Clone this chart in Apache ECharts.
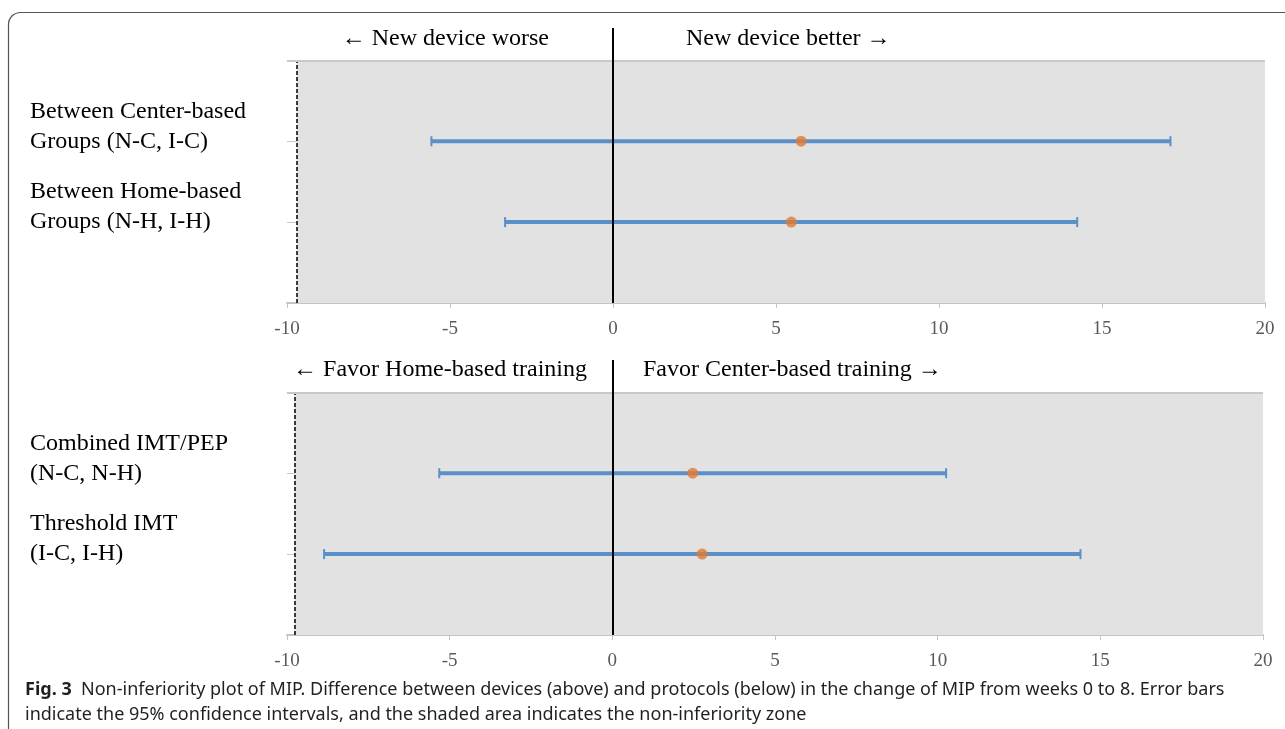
<!DOCTYPE html>
<html>
<head>
<meta charset="utf-8">
<title>Non-inferiority plot of MIP</title>
<script src="https://cdn.jsdelivr.net/npm/echarts@6/dist/echarts.min.js"></script>
<style>
  html, body { margin: 0; padding: 0; background: #fff; }
  #chart { width: 1285px; height: 729px; }
</style>
</head>
<body>
<div id="chart"></div>
<script>
// upper panel: devices
var topLabels = ['Between Center-based\nGroups (N-C, I-C)', 'Between Home-based\nGroups (N-H, I-H)'];
var topMean = [5.77, 5.47];
var topLow = [-5.57, -3.31];
var topHigh = [17.10, 14.24];
var topMargin = -9.7;

// lower panel: protocols
var botLabels = ['Combined IMT/PEP\n(N-C, N-H)', 'Threshold IMT\n(I-C, I-H)'];
var botMean = [2.47, 2.76];
var botLow = [-5.32, -8.86];
var botHigh = [10.26, 14.39];
var botMargin = -9.77;

// row positions on the value y axis (first row on top)
var rowPos = [2, 1];
var xTicks = [-10, -5, 0, 5, 10, 15, 20];

var serif = 'Liberation Serif';
var blue = '#5b8fc8';
var orange = '#e07a35';

function labelFor(list) {
    return function (v) {
        var i = rowPos.indexOf(v);
        // trailing blank line so the second line sits on the row
        return i >= 0 ? list[i] + '\n ' : '';
    };
}

function makeY(idx, list) {
    return {
        gridIndex: idx,
        type: 'value',
        min: 0,
        max: 3.4,
        interval: 1,
        axisLine: { show: false },
        axisTick: { show: false },
        splitLine: {
            show: true,
            showMaxLine: false,
            lineStyle: { color: '#c8c8c8', width: 1 }
        },
        axisLabel: {
            formatter: labelFor(list),
            align: 'left',
            margin: 257,
            fontFamily: serif,
            fontSize: 24,
            lineHeight: 30,
            color: '#000'
        }
    };
}

function makeX(idx) {
    return {
        gridIndex: idx,
        type: 'value',
        min: xTicks[0],
        max: xTicks[xTicks.length - 1],
        interval: 5,
        axisLine: { show: true, lineStyle: { color: '#c4c4c4', width: 2 } },
        axisTick: { show: true, length: 5, lineStyle: { color: '#c4c4c4' } },
        splitLine: { show: false },
        axisLabel: {
            fontFamily: serif,
            fontSize: 19,
            color: '#595959',
            margin: 17,
            formatter: function (v) { return String(v); }
        }
    };
}

function errorSeries(idx, low, high) {
    var data = low.map(function (l, i) { return [l, high[i], rowPos[i]]; });
    return {
        type: 'custom',
        xAxisIndex: idx,
        yAxisIndex: idx,
        z: 3,
        silent: true,
        data: data,
        renderItem: function (params, api) {
            var a = api.coord([api.value(0), api.value(2)]);
            var b = api.coord([api.value(1), api.value(2)]);
            var cap = 5;
            return {
                type: 'group',
                children: [
                    { type: 'line', shape: { x1: a[0], y1: a[1], x2: b[0], y2: b[1] },
                      style: { stroke: blue, lineWidth: 4 } },
                    { type: 'line', shape: { x1: a[0], y1: a[1] - cap, x2: a[0], y2: a[1] + cap },
                      style: { stroke: blue, lineWidth: 2 } },
                    { type: 'line', shape: { x1: b[0], y1: b[1] - cap, x2: b[0], y2: b[1] + cap },
                      style: { stroke: blue, lineWidth: 2 } }
                ]
            };
        }
    };
}

function pointSeries(idx, mean) {
    return {
        type: 'scatter',
        xAxisIndex: idx,
        yAxisIndex: idx,
        z: 4,
        symbolSize: 11,
        itemStyle: { color: orange },
        data: mean.map(function (m, i) { return [m, rowPos[i]]; })
    };
}

// shaded zone, dashed margin line and the top border line
function zoneSeries(idx, margin) {
    return {
        type: 'line',
        xAxisIndex: idx,
        yAxisIndex: idx,
        z: -1,
        silent: true,
        data: [],
        markArea: {
            silent: true,
            itemStyle: { color: '#e2e2e2' },
            data: [[{ coord: [margin, 0] }, { coord: [20, 3] }]]
        },
        markLine: {
            silent: true,
            symbol: 'none',
            label: { show: false },
            data: [
                [{ coord: [margin, 0], lineStyle: { color: '#000', width: 1.5, type: [4, 2] } },
                 { coord: [margin, 3] }],
                [{ coord: [-10, 3], lineStyle: { color: '#c8c8c8', width: 2, type: 'solid' } },
                 { coord: [20, 3] }]
            ]
        }
    };
}

function zeroSeries(idx) {
    return {
        type: 'line',
        xAxisIndex: idx,
        yAxisIndex: idx,
        z: 2,
        silent: true,
        data: [],
        markLine: {
            silent: true,
            symbol: 'none',
            label: { show: false },
            lineStyle: { color: '#000', width: 2, type: 'solid' },
            data: [{ xAxis: 0 }]
        }
    };
}

function note(text, x, y, align) {
    return {
        type: 'text',
        x: x,
        y: y,
        style: {
            text: text,
            fontFamily: serif,
            fontSize: 24,
            fill: '#000',
            align: align,
            verticalAlign: 'middle'
        }
    };
}

var myChart = echarts.init(document.getElementById('chart'));
var option = {
    animation: false,
    backgroundColor: '#fff',
    grid: [
        { left: 287, right: 20, top: 28, height: 275 },
        { left: 287, right: 22, top: 360, height: 275 }
    ],
    xAxis: [makeX(0), makeX(1)],
    yAxis: [makeY(0, topLabels), makeY(1, botLabels)],
    series: [
        zoneSeries(0, topMargin),
        zeroSeries(0),
        errorSeries(0, topLow, topHigh),
        pointSeries(0, topMean),
        zoneSeries(1, botMargin),
        zeroSeries(1),
        errorSeries(1, botLow, botHigh),
        pointSeries(1, botMean)
    ],
    graphic: [
        {
            type: 'rect',
            z: -10,
            shape: { x: 8.5, y: 12.5, width: 1400, height: 900, r: 12 },
            style: { fill: 'none', stroke: '#555', lineWidth: 1.2 }
        },
        note('\u2190 New device worse', 549, 39, 'right'),
        note('New device better \u2192', 686, 39, 'left'),
        note('\u2190 Favor Home-based training', 587, 370, 'right'),
        note('Favor Center-based training \u2192', 643, 370, 'left'),
        {
            type: 'text',
            x: 25,
            y: 677,
            style: {
                text: '{b|Fig. 3}  Non-inferiority plot of MIP. Difference between devices (above) and protocols (below) in the change of MIP from weeks 0 to 8. Error bars\nindicate the 95% confidence intervals, and the shaded area indicates the non-inferiority zone',
                fontFamily: 'Noto Sans',
                fontSize: 18,
                lineHeight: 25,
                fill: '#231f20',
                verticalAlign: 'top',
                rich: {
                    b: { fontFamily: 'Noto Sans', fontWeight: 'bold', fontSize: 18, fill: '#231f20' }
                }
            }
        }
    ]
};
myChart.setOption(option, true);
window.addEventListener('resize', function () {
    myChart.resize();
});
</script>
</body>
</html>
